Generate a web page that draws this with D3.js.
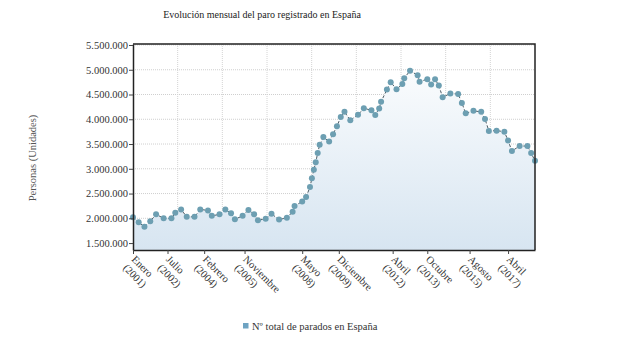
<!DOCTYPE html>
<html>
<head>
<meta charset="utf-8">
<script src="https://cdn.jsdelivr.net/npm/d3@7"></script>
<style>
  body { margin: 0; background: #fff; }
  svg text { font-family: "Liberation Serif", "Times New Roman", serif; }
</style>
</head>
<body>
<div id="chart"></div>
<script>
// meses (AAAA-MM) y nº de parados
const meses = ["2001-01", "2001-04", "2001-07", "2001-10", "2002-01", "2002-05", "2002-09", "2002-11",
    "2003-02", "2003-05", "2003-09", "2003-12", "2004-04", "2004-06", "2004-10", "2005-01",
    "2005-04", "2005-06", "2005-10", "2006-01", "2006-04", "2006-06", "2006-10", "2007-01",
    "2007-05", "2007-09", "2007-12", "2008-01", "2008-05", "2008-07", "2008-09", "2008-10",
    "2008-11", "2008-12", "2009-01", "2009-02", "2009-04", "2009-07", "2009-09", "2009-11",
    "2010-01", "2010-03", "2010-06", "2010-10", "2011-01", "2011-05", "2011-07", "2011-09",
    "2011-10", "2012-01", "2012-03", "2012-06", "2012-09", "2012-10", "2013-01", "2013-05",
    "2013-06", "2013-10", "2013-12", "2014-02", "2014-04", "2014-06", "2014-10", "2015-02",
    "2015-04", "2015-06", "2015-10", "2016-02", "2016-04", "2016-06", "2016-10", "2017-02",
    "2017-04", "2017-06", "2017-10", "2018-02", "2018-04", "2018-06"];
const parados = [2020000, 1920000, 1830000, 1940000, 2080000, 2000000, 2000000, 2110000,
    2180000, 2030000, 2030000, 2180000, 2160000, 2050000, 2080000, 2180000,
    2100000, 1980000, 2050000, 2170000, 2080000, 1960000, 1990000, 2090000,
    1975000, 2010000, 2130000, 2250000, 2340000, 2430000, 2630000, 2810000,
    2980000, 3130000, 3320000, 3485000, 3640000, 3550000, 3700000, 3860000,
    4045000, 4150000, 3980000, 4090000, 4225000, 4180000, 4085000, 4220000,
    4355000, 4600000, 4750000, 4605000, 4710000, 4830000, 4980000, 4890000,
    4760000, 4810000, 4700000, 4810000, 4680000, 4445000, 4520000, 4510000,
    4330000, 4120000, 4170000, 4150000, 4005000, 3765000, 3770000, 3750000,
    3570000, 3360000, 3460000, 3460000, 3320000, 3160000];

// etiquetas del eje x
const tickMeses = ["2001-01", "2002-07", "2004-02", "2005-11", "2008-05", "2009-12", "2012-04", "2013-10", "2015-08", "2017-04"];
const tickNombres = ["Enero", "Julio", "Febrero", "Noviembre", "Mayo", "Diciembre", "Abril", "Octubre", "Agosto", "Abril"];
const tickAnios = ["(2001)", "(2002)", "(2004)", "(2005)", "(2008)", "(2009)", "(2012)", "(2013)", "(2015)", "(2017)"];
const yTicks = [1500000, 2000000, 2500000, 3000000, 3500000, 4000000, 4500000, 5000000, 5500000];

const titulo = "Evolución mensual del paro registrado en España";
const serieNombre = "Nº total de parados en España";

const width = 620;
const height = 350;
const margin = { top: 44, right: 85, bottom: 100, left: 133 };

const parseMes = d3.timeParse("%Y-%m");
const data = meses.map((m, i) => ({ fecha: parseMes(m), valor: parados[i] }));

const esES = d3.formatLocale({ decimal: ",", thousands: ".", grouping: [3], currency: ["", " €"] });
const fmt = esES.format(",d");

const svg = d3.select("#chart")
    .append("svg")
    .attr("width", width)
    .attr("height", height);

const xScale = d3.scaleTime()
    .domain([parseMes("2001-01"), parseMes("2018-06")])
    .range([margin.left, width - margin.right]);

const yScale = d3.scaleLinear()
    .domain([1360000, 5520000])
    .range([height - margin.bottom, margin.top]);

const x0 = margin.left, x1 = width - margin.right;
const y0 = height - margin.bottom, y1 = margin.top;

// degradado del área
const grad = svg.append("defs").append("linearGradient")
    .attr("id", "areaGrad")
    .attr("gradientUnits", "userSpaceOnUse")
    .attr("x1", 0).attr("x2", 0)
    .attr("y1", y1).attr("y2", y0);
grad.append("stop").attr("offset", "0%").attr("stop-color", "#ffffff");
grad.append("stop").attr("offset", "100%").attr("stop-color", "#d7e5f1");

// título
svg.append("text")
    .attr("x", 262)
    .attr("y", 18)
    .attr("text-anchor", "middle")
    .attr("font-size", "10px")
    .attr("fill", "#222")
    .text(titulo);

// rejilla horizontal
svg.append("g")
    .selectAll("line")
    .data(yTicks)
    .enter()
    .append("line")
    .attr("x1", x0).attr("x2", x1)
    .attr("y1", d => yScale(d)).attr("y2", d => yScale(d))
    .attr("stroke", "#cfcfcf")
    .attr("stroke-dasharray", "1,1");

// rejilla vertical (9 divisiones iguales)
svg.append("g")
    .selectAll("line")
    .data(d3.range(1, 9))
    .enter()
    .append("line")
    .attr("x1", d => x0 + d * (x1 - x0) / 9)
    .attr("x2", d => x0 + d * (x1 - x0) / 9)
    .attr("y1", y1).attr("y2", y0)
    .attr("stroke", "#d4d4d4")
    .attr("stroke-dasharray", "1,1");

// área
const area = d3.area()
    .x(d => xScale(d.fecha))
    .y0(y0)
    .y1(d => yScale(d.valor));
svg.append("path")
    .datum(data)
    .attr("d", area)
    .attr("fill", "url(#areaGrad)");

// línea discontinua
const line = d3.line()
    .x(d => xScale(d.fecha))
    .y(d => yScale(d.valor));
svg.append("path")
    .datum(data)
    .attr("d", line)
    .attr("fill", "none")
    .attr("stroke", "#4d5b63")
    .attr("stroke-width", 1)
    .attr("stroke-dasharray", "3,2");

// marcadores
svg.append("g")
    .selectAll("circle")
    .data(data)
    .enter()
    .append("circle")
    .attr("cx", d => xScale(d.fecha))
    .attr("cy", d => yScale(d.valor))
    .attr("r", 3)
    .attr("fill", "#6d9fb2");

// marco superior y derecho
svg.append("path")
    .attr("d", `M${x0},${y1}H${x1}V${y0}`)
    .attr("fill", "none")
    .attr("stroke", "#222")
    .attr("stroke-width", 1.5);

// eje y
const yAxis = svg.append("g")
    .attr("transform", `translate(${x0}, 0)`)
    .call(d3.axisLeft(yScale).tickValues(yTicks).tickFormat(fmt).tickSize(4).tickSizeOuter(0));
yAxis.attr("font-family", null);
yAxis.select(".domain").attr("stroke", "#222").attr("stroke-width", 1.5);
yAxis.selectAll(".tick line").attr("stroke", "#444");
yAxis.selectAll(".tick text")
    .attr("x", -5)
    .style("font-size", "10.5px")
    .attr("fill", "#333");

// eje x
const xAxis = svg.append("g")
    .attr("transform", `translate(0, ${y0})`)
    .call(d3.axisBottom(xScale).tickValues(tickMeses.map(parseMes)).tickFormat("").tickSize(4).tickSizeOuter(0));
xAxis.select(".domain").attr("stroke", "#222").attr("stroke-width", 1.5);
xAxis.selectAll(".tick line").attr("stroke", "#444");

// etiquetas giradas de dos líneas
const xLabels = svg.append("g")
    .selectAll("text")
    .data(tickMeses)
    .enter()
    .append("text")
    .attr("transform", d => `translate(${xScale(parseMes(d)) - 2}, ${y0 + 10}) rotate(45)`)
    .attr("font-size", "10.5px")
    .attr("fill", "#333");
xLabels.append("tspan")
    .attr("x", 0).attr("dy", 0)
    .text((d, i) => tickNombres[i]);
xLabels.append("tspan")
    .attr("x", 0).attr("dy", "1.15em")
    .text((d, i) => tickAnios[i]);

// título eje y
svg.append("text")
    .attr("transform", "translate(36, 158) rotate(-90)")
    .attr("text-anchor", "middle")
    .attr("font-size", "10.5px")
    .attr("fill", "#555")
    .text("Personas (Unidades)");

// leyenda
const legend = svg.append("g").attr("transform", "translate(243, 323)");
legend.append("rect")
    .attr("width", 5.5).attr("height", 5.5)
    .attr("fill", "#6ea3c2");
legend.append("text")
    .attr("x", 9).attr("y", 7)
    .attr("font-size", "10.5px")
    .attr("fill", "#333")
    .text(serieNombre);
</script>
</body>
</html>
